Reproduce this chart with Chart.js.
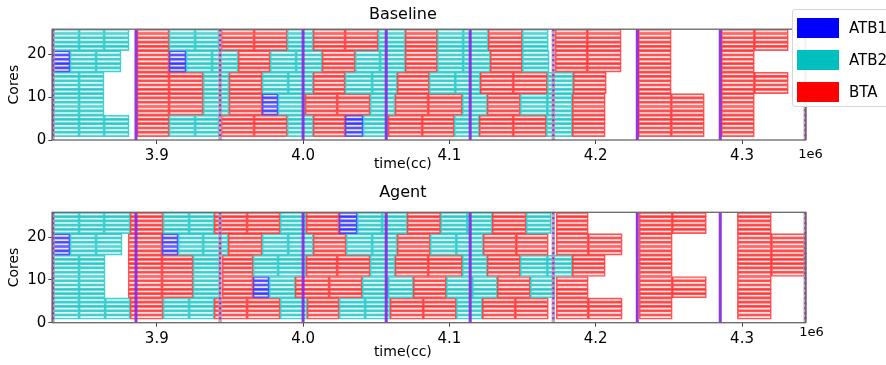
<!DOCTYPE html>
<html><head><meta charset="utf-8">
<script src="https://cdn.jsdelivr.net/npm/chart.js@4/dist/chart.umd.min.js"></script>
<style>
html,body{margin:0;padding:0;background:#fff;}
body{width:886px;height:365px;overflow:hidden;position:relative;font-family:"DejaVu Sans",sans-serif;}
#c1{position:absolute;left:0;top:0;}
#c2{position:absolute;left:0;top:180px;}
#legend{position:absolute;left:792px;top:9px;width:110px;height:96px;border:1px solid #d6d6d6;border-radius:3px;background:rgba(255,255,255,0.92);z-index:5;}
.item{position:absolute;left:4px;height:20px;}
.patch{position:absolute;left:0;top:0;width:42px;height:20px;}
.lab{position:absolute;left:52px;top:0;line-height:20px;font-size:15px;color:#000;white-space:nowrap;}
</style></head>
<body>
<canvas id="c1" width="886" height="180"></canvas>
<canvas id="c2" width="886" height="185"></canvas>
<div id="legend"></div>
<script>
// ---------- data (time values in thousands of cycles; axis shows x1e6) ----------
const A1 = 'ATB1', A2 = 'ATB2', B = 'BTA';
const legendLabels = [A1, A2, B];
const legendColors = ['#0000ff', '#00bfbf', '#ff0000'];
const xTicks = [3900, 4000, 4100, 4200, 4300];
const yTicks = [0, 10, 20];
const coresPerGroup = 5;
const solidMarks = [3885.8, 4000.0, 4056.8, 4114.2, 4228.4, 4285.1];
const dottedMarks = [3829.1, 3943.3, 4171.0, 4343.2];

// Baseline: tasks per core group (group 0 = bottom)
const baseG0 = [[3829.1,3846.9,A2],[3846.9,3864.0,A2],[3864.0,3881.1,A2],[3886.5,3908.4,B],[3908.4,3926.2,A2],[3926.2,3942.6,A2],[3944.0,3966.5,B],[3966.5,3989.1,B],[3989.1,4006.9,A2],[4006.9,4028.7,B],[4028.7,4041.0,A1],[4041.0,4058.1,A2],[4058.1,4081.4,B],[4081.4,4103.3,B],[4103.3,4120.4,A2],[4120.4,4143.6,B],[4143.6,4166.2,B],[4166.2,4184.0,A2],[4184.0,4206.5,B],[4229.1,4251.6,B],[4251.6,4274.2,B],[4285.8,4308.4,B]];
const baseG1 = [[3829.1,3846.9,A2],[3846.9,3864.0,A2],[3886.5,3908.4,B],[3908.4,3931.7,B],[3931.7,3949.4,A2],[3949.4,3972.0,B],[3972.0,3982.9,A1],[3982.9,4001.4,A2],[4001.4,4023.3,B],[4023.3,4045.8,B],[4045.8,4062.9,A2],[4062.9,4085.5,B],[4085.5,4108.8,B],[4108.8,4125.8,A2],[4125.8,4148.4,B],[4148.4,4166.9,A2],[4166.9,4184.0,A2],[4184.0,4206.5,B],[4229.1,4251.6,B],[4251.6,4274.2,B],[4285.8,4308.4,B]];
const baseG2 = [[3829.1,3846.9,A2],[3846.9,3864.0,A2],[3886.5,3908.4,B],[3908.4,3931.7,B],[3931.7,3949.4,A2],[3949.4,3972.0,B],[3972.0,3989.8,A2],[3989.8,4006.9,A2],[4006.9,4028.7,B],[4028.7,4047.2,A2],[4047.2,4064.3,A2],[4064.3,4086.2,B],[4086.2,4104.0,A2],[4104.0,4121.1,A2],[4121.1,4143.6,B],[4143.6,4166.9,B],[4166.9,4184.6,A2],[4184.6,4207.2,B],[4229.1,4251.6,B],[4285.8,4308.4,B],[4308.4,4331.6,B]];
const baseG3 = [[3829.1,3840.7,A1],[3840.7,3858.5,A2],[3858.5,3875.6,A2],[3886.5,3908.4,B],[3908.4,3920.0,A1],[3920.0,3937.8,A2],[3937.8,3955.6,A2],[3955.6,3977.5,B],[3977.5,3995.2,A2],[3995.2,4013.0,A2],[4013.0,4035.6,B],[4035.6,4052.6,A2],[4052.6,4069.8,A2],[4069.8,4091.7,B],[4091.7,4109.4,A2],[4109.4,4127.9,A2],[4127.9,4149.8,B],[4149.8,4168.2,A2],[4172.3,4194.2,B],[4194.2,4217.4,B],[4229.1,4251.6,B],[4285.8,4308.4,B]];
const baseG4 = [[3829.1,3846.9,A2],[3846.9,3864.0,A2],[3864.0,3881.1,A2],[3886.5,3908.4,B],[3908.4,3926.2,A2],[3926.2,3942.6,A2],[3944.0,3966.5,B],[3966.5,3989.1,B],[3989.1,4006.9,A2],[4006.9,4028.7,B],[4028.7,4051.3,B],[4051.3,4069.8,A2],[4069.8,4091.7,B],[4091.7,4109.4,A2],[4109.4,4126.5,A2],[4126.5,4149.8,B],[4149.8,4167.6,A2],[4172.3,4194.2,B],[4194.2,4217.4,B],[4229.1,4251.6,B],[4285.8,4308.4,B],[4308.4,4331.6,B]];

// Agent
const agentG0 = [[3829.1,3846.9,A2],[3846.9,3864.7,A2],[3864.7,3881.8,A2],[3881.8,3904.3,B],[3904.3,3922.1,A2],[3922.1,3939.2,A2],[3939.2,3961.7,B],[3961.7,3984.3,B],[3984.3,4002.8,A2],[4002.8,4024.6,B],[4024.6,4042.4,A2],[4042.4,4059.5,A2],[4059.5,4082.1,B],[4082.1,4104.7,B],[4104.7,4122.5,A2],[4122.5,4145.0,B],[4145.0,4167.6,B],[4173.0,4194.9,B],[4194.9,4218.1,B],[4229.7,4252.3,B],[4296.8,4320.0,B]];
const agentG1 = [[3829.1,3846.9,A2],[3846.9,3864.7,A2],[3880.4,3903.6,B],[3903.6,3924.8,B],[3924.8,3943.3,A2],[3944.7,3965.8,B],[3965.8,3976.8,A1],[3976.8,3994.6,A2],[3994.6,4017.8,B],[4017.8,4040.4,B],[4040.4,4058.1,A2],[4058.1,4075.3,A2],[4075.3,4097.9,B],[4097.9,4115.6,A2],[4115.6,4132.7,A2],[4132.7,4155.3,B],[4155.3,4172.3,A2],[4173.0,4194.9,B],[4229.7,4252.3,B],[4252.3,4275.6,B],[4296.8,4320.0,B]];
const agentG2 = [[3829.1,3846.9,A2],[3846.9,3864.7,A2],[3880.4,3903.6,B],[3903.6,3924.8,B],[3924.8,3943.3,A2],[3944.7,3965.8,B],[3965.8,3982.9,A2],[3982.9,4002.1,A2],[4002.1,4023.3,B],[4023.3,4045.8,B],[4045.8,4062.9,A2],[4062.9,4085.5,B],[4085.5,4108.8,B],[4108.8,4125.8,A2],[4125.8,4148.4,B],[4148.4,4166.9,A2],[4166.9,4184.0,A2],[4184.0,4206.5,B],[4229.7,4252.3,B],[4296.8,4320.0,B],[4320.0,4343.0,B]];
const agentG3 = [[3829.1,3840.7,A1],[3840.7,3858.5,A2],[3858.5,3876.3,A2],[3880.4,3903.6,B],[3903.6,3914.6,A1],[3914.6,3931.7,A2],[3931.7,3948.8,A2],[3948.8,3972.0,B],[3972.0,3989.8,A2],[3989.8,4006.9,A2],[4006.9,4029.4,B],[4029.4,4047.2,A2],[4047.2,4064.3,A2],[4064.3,4086.9,B],[4086.9,4104.7,A2],[4104.7,4123.1,A2],[4123.1,4145.7,B],[4145.7,4167.6,B],[4173.0,4194.9,B],[4194.9,4218.1,B],[4229.7,4252.3,B],[4296.8,4320.0,B],[4320.0,4343.0,B]];
const agentG4 = [[3829.1,3846.9,A2],[3846.9,3864.0,A2],[3864.0,3881.8,A2],[3881.8,3904.3,B],[3904.3,3922.1,A2],[3922.1,3939.2,A2],[3939.2,3961.7,B],[3961.7,3984.3,B],[3984.3,4002.1,A2],[4002.1,4024.6,B],[4024.6,4037.0,A1],[4037.0,4054.0,A2],[4054.0,4071.1,A2],[4071.1,4094.0,B],[4094.0,4112.2,A2],[4112.2,4129.3,A2],[4129.3,4152.5,B],[4152.5,4169.6,A2],[4173.0,4194.9,B],[4229.7,4252.3,B],[4252.3,4275.6,B],[4296.8,4320.0,B]];

// ---------- styling ----------
const FONT = '"DejaVu Sans", sans-serif';
const fillCol = {ATB1:'rgba(0,0,255,0.10)', ATB2:'rgba(0,191,191,0.10)', BTA:'rgba(255,0,0,0.10)'};
const edgeCol = {ATB1:'rgba(0,0,255,0.66)', ATB2:'rgba(0,191,191,0.72)', BTA:'rgba(255,0,0,0.66)'};
const firstRow = 0.8;

function buildStripes(groups) {
  const out = [];
  groups.forEach((tasks, g) => {
    tasks.forEach(([s, e, t]) => {
      for (let k = 0; k < coresPerGroup; k++) {
        out.push({x: [s, e], y: firstRow + g * coresPerGroup + k + 0.5, t});
      }
    });
  });
  return out;
}

const decor = {
  id: 'decor',
  afterDatasetsDraw(chart, args, opts) {
    const {ctx, chartArea: a, scales: {x}} = chart;
    ctx.save();
    ctx.beginPath(); ctx.rect(a.left - 2, a.top, a.width + 4, a.height); ctx.clip();
    dottedMarks.forEach(v => {
      const px = x.getPixelForValue(v);
      ctx.setLineDash([]);
      ctx.strokeStyle = 'rgba(188,143,165,0.8)'; ctx.lineWidth = 3.5;
      ctx.beginPath(); ctx.moveTo(px, a.top); ctx.lineTo(px, a.bottom); ctx.stroke();
      ctx.setLineDash([2, 3]);
      ctx.strokeStyle = 'rgb(138,43,226)'; ctx.lineWidth = 2;
      ctx.beginPath(); ctx.moveTo(px, a.top); ctx.lineTo(px, a.bottom); ctx.stroke();
    });
    ctx.setLineDash([]);
    solidMarks.forEach(v => {
      const px = x.getPixelForValue(v);
      ctx.strokeStyle = 'rgba(138,43,226,0.95)'; ctx.lineWidth = 3;
      ctx.beginPath(); ctx.moveTo(px, a.top); ctx.lineTo(px, a.bottom); ctx.stroke();
    });
    ctx.restore();
  },
  afterDraw(chart, args, opts) {
    const {ctx, chartArea: a} = chart;
    ctx.save();
    ctx.strokeStyle = '#666'; ctx.lineWidth = 1.3;
    ctx.strokeRect(a.left, a.top, a.width, a.height);
    ctx.fillStyle = '#000'; ctx.textAlign = 'center'; ctx.textBaseline = 'middle';
    ctx.font = '14px ' + FONT;
    ctx.fillText('time(cc)', a.right / 2, opts.xlabelY);
    ctx.font = '13px ' + FONT;
    ctx.fillText('1e6', opts.offX, opts.offY);
    ctx.restore();
  }
};

function makeChart(id, title, groups, lay) {
  return new Chart(document.getElementById(id), {
    type: 'bar',
    data: {datasets: [{
      data: buildStripes(groups),
      backgroundColor: c => fillCol[c.raw ? c.raw.t : B],
      borderColor: c => edgeCol[c.raw ? c.raw.t : B],
      borderWidth: 1, borderSkipped: false,
      barPercentage: 1, categoryPercentage: 1
    }]},
    options: {
      indexAxis: 'y', responsive: false, animation: false,
      layout: {padding: {left: 0, right: 80.3, top: 0, bottom: 0}},
      plugins: {
        legend: {display: false}, tooltip: {enabled: false},
        title: {display: true, text: title, color: '#000', font: {family: FONT, size: 16, weight: 'normal'}, padding: lay.titlePad},
        decor: {xlabelY: lay.xlabelY, offX: lay.offX, offY: lay.offY}
      },
      scales: {
        x: {type: 'linear', min: 3828.6, max: 4343.5,
          afterBuildTicks: s => { s.ticks = xTicks.map(v => ({value: v})); },
          afterFit: s => { s.height = lay.xH; },
          ticks: {callback: v => (v / 1000).toFixed(1), font: {family: FONT, size: 15}, color: '#000', padding: 3, maxRotation: 0, autoSkip: false},
          grid: {display: true, drawOnChartArea: false, drawTicks: true, tickLength: 4, color: '#444'},
          border: {display: false}},
        y: {type: 'linear', min: 0, max: 25.8, offset: false,
          afterBuildTicks: s => { s.ticks = yTicks.map(v => ({value: v})); },
          afterFit: s => { s.width = 52.3; },
          ticks: {font: {family: FONT, size: 15}, color: '#000', padding: 2, autoSkip: false},
          grid: {display: true, offset: false, drawOnChartArea: false, drawTicks: true, tickLength: 4, color: '#444'},
          border: {display: false},
          title: {display: true, text: 'Cores', color: '#000', font: {family: FONT, size: 14}, padding: {top: 6, bottom: 0}}}
      }
    },
    plugins: [decor]
  });
}

makeChart('c1', 'Baseline', [baseG0, baseG1, baseG2, baseG3, baseG4],
  {titlePad: {top: 5, bottom: 5}, xH: 40, xlabelY: 164, offX: 810.5, offY: 155});
makeChart('c2', 'Agent', [agentG0, agentG1, agentG2, agentG3, agentG4],
  {titlePad: {top: 3.5, bottom: 9.6}, xH: 42.3, xlabelY: 172, offX: 811.5, offY: 153});

// legend
const lg = document.getElementById('legend');
const tops = [8.3, 40, 71.7];
legendLabels.forEach((l, i) => {
  const it = document.createElement('div');
  it.className = 'item'; it.style.top = tops[i] + 'px';
  it.innerHTML = '<div class="patch" style="background:' + legendColors[i] + '"></div><div class="lab">' + l + '</div>';
  lg.appendChild(it);
});
</script>
</body></html>
